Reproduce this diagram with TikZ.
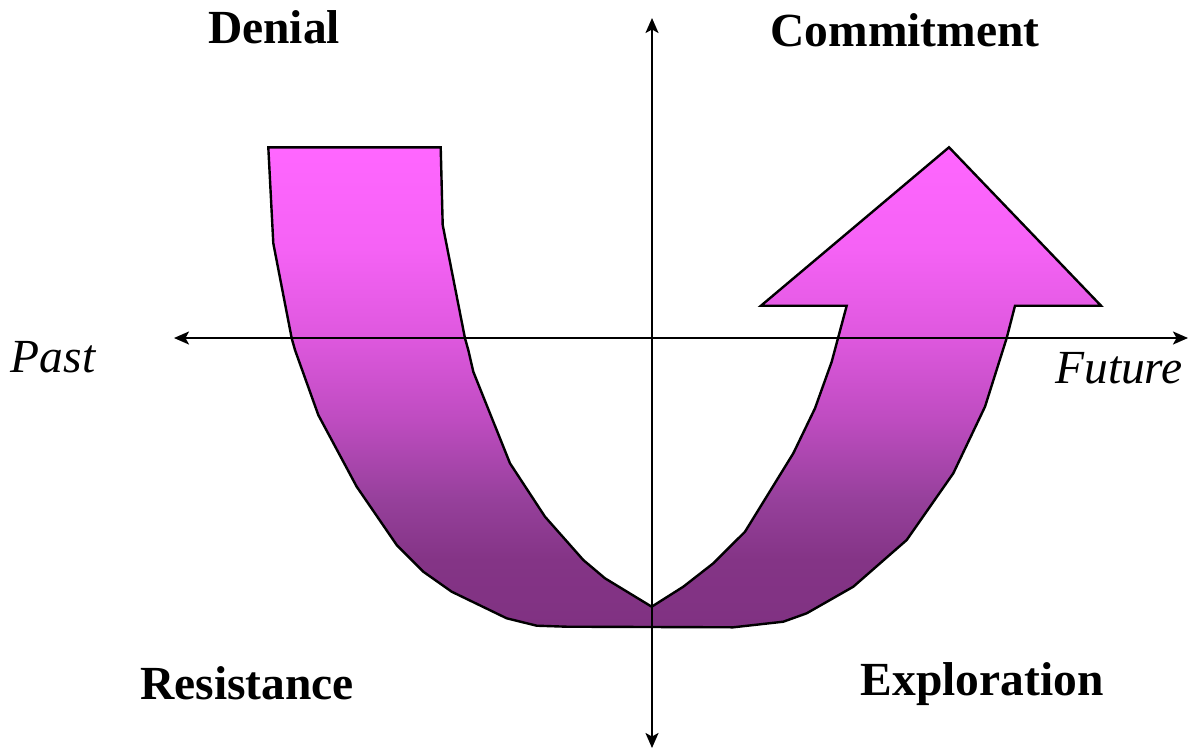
\documentclass[tikz,border=0pt]{standalone}
\usepackage{fontspec}
\setmainfont{Liberation Serif}
\usetikzlibrary{arrows.meta}
\pgfdeclareverticalshading{ushade}{100bp}{%
  color(0bp)=(rgb,255:red,128;green,50;blue,130);
  color(25bp)=(rgb,255:red,128;green,50;blue,130);
  color(32bp)=(rgb,255:red,132;green,52;blue,134);
  color(38.3bp)=(rgb,255:red,150;green,64;blue,155);
  color(46.6bp)=(rgb,255:red,190;green,76;blue,192);
  color(55.2bp)=(rgb,255:red,222;green,88;blue,222);
  color(64.4bp)=(rgb,255:red,245;green,98;blue,245);
  color(75bp)=(rgb,255:red,255;green,102;blue,255);
  color(100bp)=(rgb,255:red,255;green,102;blue,255)}
\tikzset{
  axisline/.style={line width=2pt, {Stealth[length=15pt,width=13pt,inset=3.5pt]}-{Stealth[length=15pt,width=13pt,inset=3.5pt]}},
  bigarrow/.style={draw=black, line width=2.4pt, line join=miter, shading=ushade},
  phase/.style={font=\fontsize{47.5}{50}\selectfont\bfseries, inner sep=0pt, anchor=base},
  timelabel/.style={font=\fontsize{47.5}{50}\selectfont\itshape, inner sep=0pt, anchor=base}
}
\begin{document}
\begin{tikzpicture}[x=1pt,y=-1pt]
\useasboundingbox (0,0) rectangle (1189,753);
% U-shaped arrow
\path[bigarrow]
 (268.3,147.3) -- (440.7,147.3) -- (442.7,225) -- (465,338.3) -- (468.3,350) -- (473.3,371.7)
 -- (510,463.3) -- (545,516.7) -- (583.3,560) -- (605,578.3) -- (651.7,606.7)
 -- (683.3,586.7) -- (713.3,563.3) -- (745,531.7) -- (793.3,453.3) -- (815,408.3)
 -- (831.7,361.7) -- (846.7,305.7) -- (761,305.7) -- (949,147.3) -- (1101,305.7)
 -- (1015,305.7) -- (1006.7,338) -- (985,406.7) -- (953.3,473.3) -- (906.7,540)
 -- (853.3,586.7) -- (806.7,613.3) -- (783.3,621.7) -- (733.3,627.3) -- (566.7,626.7)
 -- (536.7,625.7) -- (506.7,618.3) -- (451.7,591.7) -- (423.3,571.7) -- (396.7,545)
 -- (356.7,486.7) -- (318.3,415) -- (295,350) -- (291.7,338.3) -- (273.3,243.3) -- cycle;
% axes
\coordinate (west) at (174,338);
\coordinate (east) at (1188,338);
\coordinate (north) at (652,18);
\coordinate (south) at (652,748);
\draw[axisline] (west) -- (east);
\draw[axisline] (north) -- (south);
% labels
\node[phase] (denial) at (274,43) {Denial};
\node[phase] (commit) at (905,46) {Commitment};
\node[phase] (resist) at (247,699) {Resistance};
\node[phase] (explore) at (982,695) {Exploration};
\node[timelabel] (past) at (53,372) {Past};
\node[timelabel] (future) at (1119,383) {Future};
\end{tikzpicture}
\end{document}
